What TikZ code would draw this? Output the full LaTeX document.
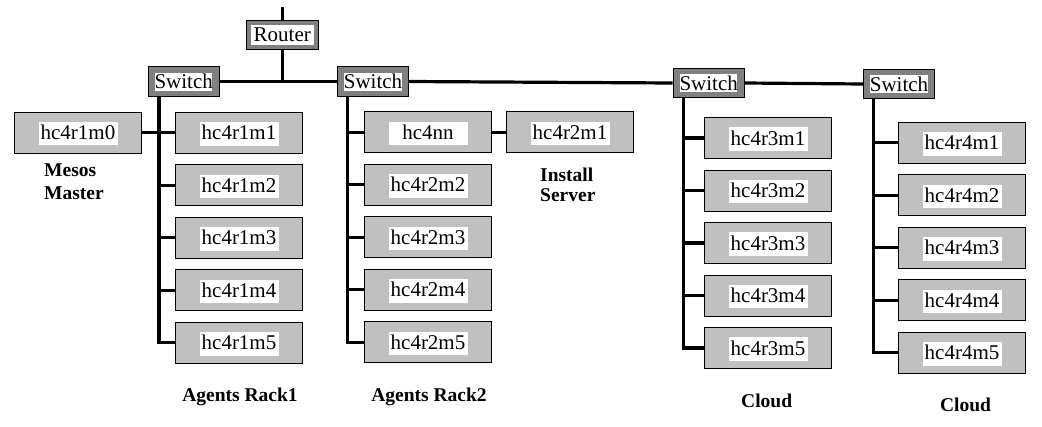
\documentclass[tikz,border=0pt]{standalone}
\usepackage{fontspec}
\setmainfont{Liberation Serif}
\definecolor{hostgray}{HTML}{C0C0C0}
\definecolor{swgray}{HTML}{808080}
\begin{document}
\begin{tikzpicture}[x=1pt,y=-1pt,
  host/.style={draw=black, line width=0.9pt, fill=hostgray, minimum width=127pt, minimum height=41pt, inner sep=0pt,
    font=\fontsize{21}{25}\selectfont,
    path picture={\fill[white] ([xshift=-39.5pt,yshift=-12.7pt]path picture bounding box.center) rectangle ([xshift=39.5pt,yshift=10.7pt]path picture bounding box.center);}},
  sw/.style={draw=black, line width=0.9pt, fill=swgray, minimum width=71.3pt, minimum height=29.4pt, inner sep=0pt,
    font=\fontsize{21}{25}\selectfont,
    path picture={\fill[white] ([xshift=-28.6pt,yshift=-9pt]path picture bounding box.center) rectangle ([xshift=28.6pt,yshift=9pt]path picture bounding box.center);}},
  rt/.style={draw=black, line width=0.9pt, fill=swgray, minimum width=72.7pt, minimum height=29pt, inner sep=0pt,
    font=\fontsize{21}{25}\selectfont,
    path picture={\fill[white] ([xshift=-31.5pt,yshift=-10pt]path picture bounding box.center) rectangle ([xshift=31.5pt,yshift=10pt]path picture bounding box.center);}},
  wire/.style={line width=3.2pt, line join=miter},
  lbl/.style={font=\fontsize{19.5}{22}\selectfont\bfseries, inner sep=0pt}]
\useasboundingbox (0,0) rectangle (1042,426);

% router and switches
\coordinate (top) at (282.3,7);
\node[rt] (router) at (282.3,34.5) {Router};
\node[sw] (sw1) at (183.7,81.5) {Switch};
\node[sw] (sw2) at (373,81.5) {Switch};
\node[sw] (sw3) at (708.7,83) {Switch};
\node[sw] (sw4) at (899,84) {Switch};

% column x positions of the vertical buses
\coordinate (c1) at (159,0);
\coordinate (c2) at (347.3,0);
\coordinate (c3) at (683.3,0);
\coordinate (c4) at (873.3,0);

% hosts
\node[host, minimum width=127.4pt] (r1m0) at (78,132.5) {hc4r1m0};
\foreach \k in {1,...,5} {
  \node[host] (r1m\k) at (239,{132.8+52.5*(\k-1)}) {hc4r1m\k};
  \node[host] (r3m\k) at (768,{138+52.5*(\k-1)}) {hc4r3m\k};
  \node[host] (r4m\k) at (962,{142.8+52.5*(\k-1)}) {hc4r4m\k};
}
\node[host] (nn) at (428,132.3) {hc4nn};
\node[host] (r2m1) at (570,132.3) {hc4r2m1};
\foreach \k in {2,...,5} {
  \node[host] (r2m\k) at (428,{132.3+52.5*(\k-1)}) {hc4r2m\k};
}

% connectors
\draw[wire] (top) -- (router.north);
\draw[wire] (router.south) -- (router.south |- sw1.east);
\draw[wire] (sw1.east) -- (sw2.west);
\draw[wire] (sw2.east) -- (sw3.west);
\draw[wire] (sw3.east) -- (sw4.west);

\draw[wire] (sw1.south -| c1) -- (r1m5.west -| c1) -- (r1m5.west);
\foreach \k in {1,...,4} { \draw[wire] (r1m\k.west -| c1) -- (r1m\k.west); }
\draw[wire] (r1m0.east) -- (r1m0.east -| c1);

\draw[wire] (sw2.south -| c2) -- (r2m5.west -| c2) -- (r2m5.west);
\draw[wire] (nn.west -| c2) -- (nn.west);
\foreach \k in {2,...,4} { \draw[wire] (r2m\k.west -| c2) -- (r2m\k.west); }
\draw[wire] (nn.east) -- (r2m1.west);

\draw[wire] (sw3.south -| c3) -- (r3m5.west -| c3) -- (r3m5.west);
\foreach \k in {1,...,4} { \draw[wire] (r3m\k.west -| c3) -- (r3m\k.west); }

\draw[wire] (sw4.south -| c4) -- (r4m5.west -| c4) -- (r4m5.west);
\foreach \k in {1,...,4} { \draw[wire] (r4m\k.west -| c4) -- (r4m\k.west); }

% labels (base anchor = baseline of the last line)
\node[lbl, anchor=base west, align=left] (mesos) at (44,199) {Mesos\\[0.3pt]Master};
\node[lbl, anchor=base west, align=left] (install) at (540,201.7) {Install\\[-2pt]Server};
\node[lbl, anchor=base] (rack1) at (240,401) {Agents Rack1};
\node[lbl, anchor=base] (rack2) at (429,401.7) {Agents Rack2};
\node[lbl, anchor=base] (cloud1) at (766.7,407.3) {Cloud};
\node[lbl, anchor=base] (cloud2) at (965.5,411.7) {Cloud};
\end{tikzpicture}
\end{document}
